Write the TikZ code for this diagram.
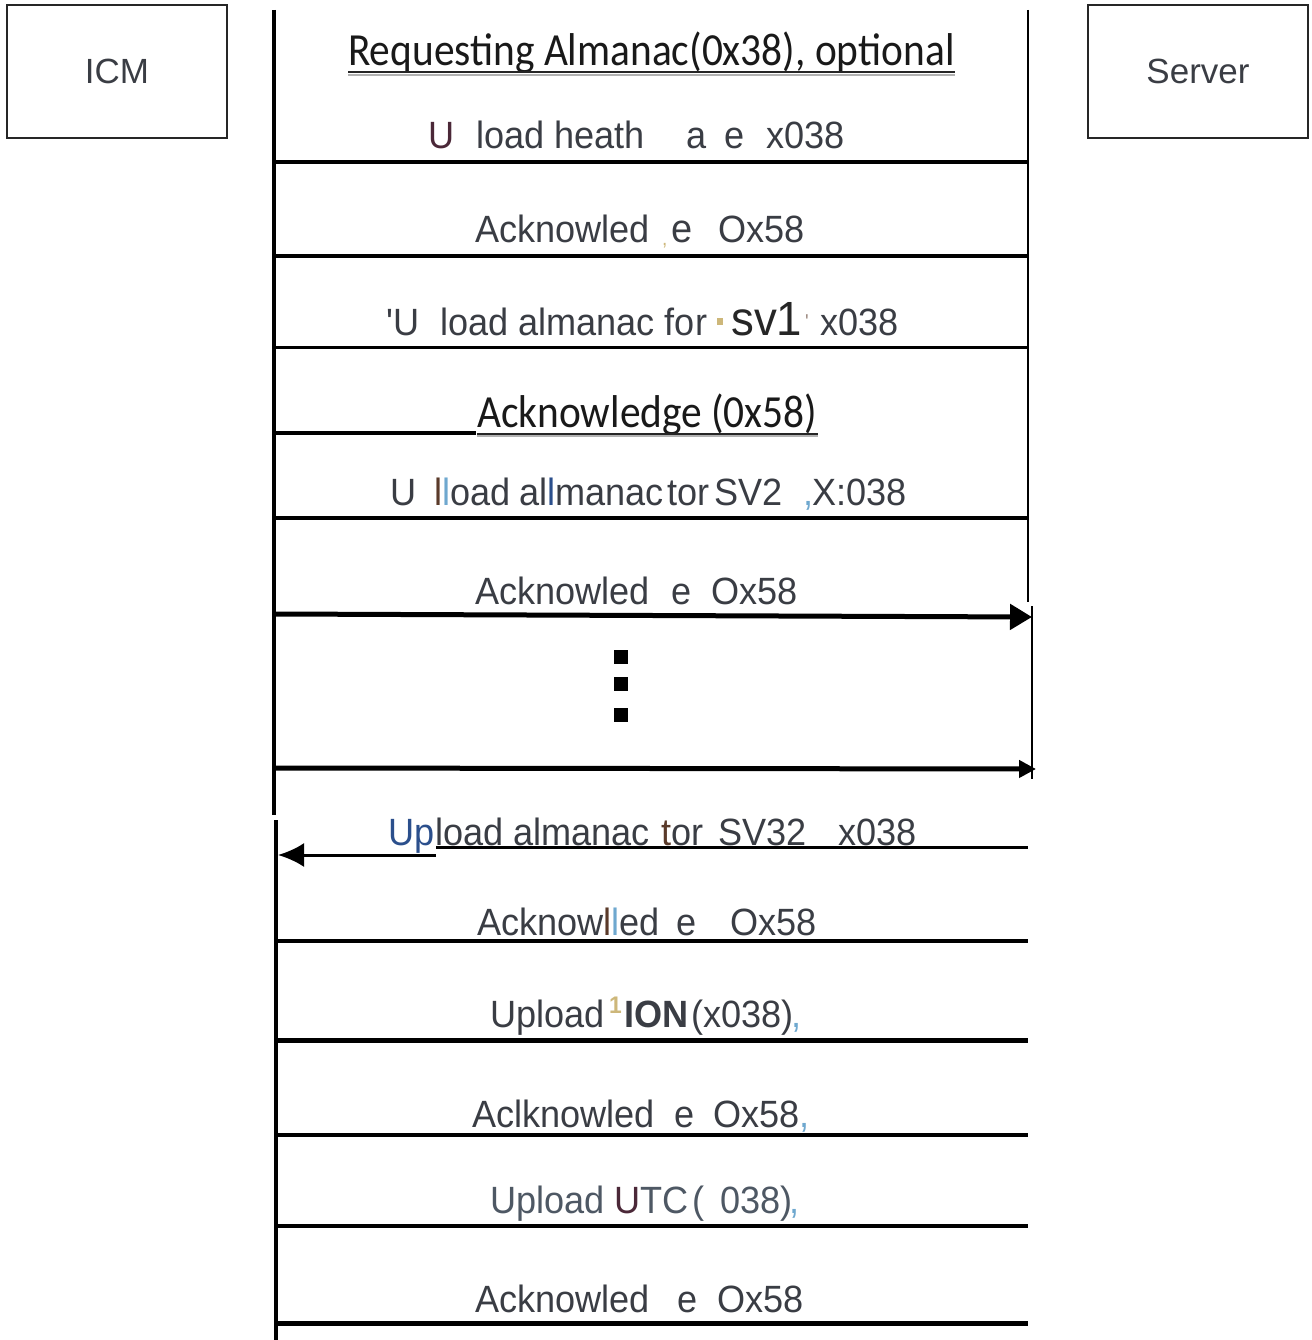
\documentclass[tikz,border=0pt]{standalone}
\usepackage{fontspec}
\setmainfont{Liberation Sans}
\newfontfamily\msgf[FakeStretch=0.95]{Liberation Sans}
\newfontfamily\calf[FakeStretch=0.9]{Carlito}
\usetikzlibrary{arrows.meta}
\definecolor{txt}{HTML}{3A3D44}
\definecolor{purp}{HTML}{4B2838}
\definecolor{gold}{HTML}{CDB77A}
\definecolor{lblue}{HTML}{6FA8CF}
\definecolor{dblue}{HTML}{2B4F8C}
\definecolor{brn}{HTML}{5A3A2A}
\definecolor{bgray}{HTML}{4E5864}
\begin{document}
\begin{tikzpicture}[x=1pt,y=-1pt,
  msg/.style={font=\msgf\fontsize{38}{44}\selectfont, text=txt, inner sep=0pt, anchor=base west},
  ttl/.style={font=\calf\fontsize{46}{50}\selectfont, text=black!90, inner sep=0pt, anchor=base west},
  actor/.style={draw=black!85, line width=1.5pt, inner sep=0pt, minimum width=220pt, minimum height=133pt,
    font=\fontsize{35}{40}\selectfont, text=txt},
  life/.style={line width=4pt},
  msgline/.style={line width=4.5pt},
  thinline/.style={line width=3pt},
  uline/.style={line width=2.5pt, black!85},
  ushadow/.style={line width=2pt, black!30}]
\useasboundingbox (0,0) rectangle (1311,1340);

% actors
\node[actor] (icm) at (117,71.5) {ICM};
\node[actor] (srv) at (1198,71.5) {Server};

% lifelines
\coordinate (lt) at (274,10);
\coordinate (lm) at (274,815);
\coordinate (lm2) at (276,820);
\coordinate (lb) at (276,1340);
\coordinate (rt) at (1028,10);
\coordinate (rm) at (1028,602);
\coordinate (rm2) at (1031.5,606);
\coordinate (rb) at (1031.5,779);
\draw[life] (lt) -- (lm);
\draw[life] (lm2) -- (lb);
\draw[line width=2pt] (rt) -- (rm);
\draw[line width=2pt] (rm2) -- (rb);

% message lines
\foreach \n/\y in {a/162, b/256, c/347, d/433, e/518, f/614, g/768, i/941, j/1040, k/1135, l/1226, m/1323}
  {\coordinate (L\n) at (276,\y); \coordinate (R\n) at (1028,\y);}
\coordinate (Dd) at (476,433);
\coordinate (Rf2) at (1032,617);
\coordinate (Rg2) at (1036,769);
\coordinate (Hs) at (436,847);
\coordinate (Hr) at (1028,847);
\coordinate (Ax) at (436,855);
\coordinate (Al) at (278,855);

\draw[msgline] (La) -- (Ra);
\draw[msgline] (Lb) -- (Rb);
\draw[thinline] (Lc) -- (Rc);
\draw[msgline] (Ld) -- (Dd);
\draw[msgline] (Le) -- (Re);
\draw[line width=5pt, -{Triangle[length=22pt,width=25pt]}] (Lf) -- (Rf2);
\draw[line width=5pt, -{Triangle[length=17pt,width=17pt]}] (Lg) -- (Rg2);
\draw[thinline] (Hs) -- (Hr);
\draw[thinline, -{Latex[length=26pt,width=24pt]}] (Ax) -- (Al);
\draw[line width=3.5pt] (Li) -- (Ri);
\draw[line width=5pt] (Lj) -- (Rj);
\draw[msgline] (Lk) -- (Rk);
\draw[msgline] (Ll) -- (Rl);
\draw[line width=5pt] (Lm) -- (Rm);

% ellipsis squares
\fill (614,650) rectangle (628,664);
\fill (614,677) rectangle (628,691);
\fill (614,708) rectangle (628,722);

% title 1
\node[ttl] (t1) at (348,66) {Requesting Almanac(0x38), optional};
\draw[ushadow] ([yshift=-9pt]t1.base west) -- ([yshift=-9pt]t1.base east);
\draw[uline] ([yshift=-6pt]t1.base west) -- ([yshift=-6pt]t1.base east);

% row 1
\node[msg, text=purp] (r1a) at (428,149) {U};
\node[msg] (r1b) at (476,149) {load heath};
\node[msg] (r1c) at (686,149) {a};
\node[msg] (r1d) at (724,149) {e};
\node[msg] (r1e) at (766,149) {x038};

% row 2
\node[msg] (r2a) at (475,243) {Acknowled};
\node[msg, text=gold, font=\msgf\fontsize{20}{22}\selectfont] (r2b) at (662,246) {,};
\node[msg, font=\msgf\fontsize{40}{44}\selectfont] (r2c) at (671,243) {e};
\node[msg] (r2d) at (718,243) {Ox58};

% row 3
\node[msg] (r3a) at (386,335) {'U};
\node[msg] (r3b) at (440,335) {load almanac for};
\fill[gold] (717,318) rectangle (723,325);
\node[msg, text=black!85, font=\msgf\fontsize{48}{52}\selectfont] (r3c) at (731,335) {sv1};
\node[msg, text=brn!60, font=\msgf\fontsize{20}{22}\selectfont] (r3d) at (805,328) {'};
\node[msg] (r3e) at (820,335) {x038};

% title 2
\node[ttl] (t2) at (477,427) {Acknowledge (0x58)};
\draw[ushadow] ([yshift=-9pt]t2.base west) -- ([yshift=-9pt]t2.base east);
\draw[uline] ([yshift=-7pt]t2.base west) -- ([yshift=-7pt]t2.base east);

% row 5
\node[msg] (r5a) at (390,505) {U};
\node[msg] (r5b) at (434,505) {\color{brn}l\color{lblue}l\color{txt}oad};
\node[msg] (r5c) at (519,505) {al\color{dblue}l\color{txt}manac};
\node[msg] (r5d) at (667,505) {tor};
\node[msg] (r5e) at (714,505) {SV2};
\node[msg, text=lblue] (r5f) at (803,505) {,};
\node[msg] (r5g) at (812,505) {X:038};

% row 6
\node[msg] (r6a) at (475,604) {Acknowled};
\node[msg] (r6b) at (671,604) {e};
\node[msg] (r6c) at (711,604) {Ox58};

% row 7
\node[msg, text=dblue] (r7a) at (388,845) {Up};
\node[msg] (r7b) at (435,845) {load almanac};
\node[msg] (r7c) at (661,845) {\color{brn}t\color{txt}or};
\node[msg] (r7d) at (718,845) {SV32};
\node[msg] (r7e) at (838,845) {x038};

% row 8
\node[msg] (r8a) at (477,935) {Acknow\color{brn}l\color{lblue}l\color{txt}ed};
\node[msg] (r8b) at (676,935) {e};
\node[msg] (r8c) at (730,935) {Ox58};

% row 9
\node[msg] (r9a) at (490,1027) {Upload};
\node[msg, text=gold, font=\msgf\bfseries\fontsize{24}{26}\selectfont] (r9b) at (609,1013) {1};
\node[msg, font=\msgf\bfseries\fontsize{38}{44}\selectfont] (r9c) at (624,1027) {ION};
\node[msg] (r9d) at (691,1027) {(x038)};
\node[msg, text=lblue] (r9e) at (791,1027) {,};

% row 10
\node[msg] (r10a) at (472,1127) {Aclknowled};
\node[msg] (r10b) at (674,1127) {e};
\node[msg] (r10c) at (713,1127) {Ox58};
\node[msg, text=lblue] (r10d) at (799,1127) {,};

% row 11
\node[msg, text=bgray] (r11a) at (490,1213) {Upload};
\node[msg] (r11b) at (614,1213) {\color{purp}U\color{bgray}TC};
\node[msg, text=bgray] (r11c) at (692,1213) {(};
\node[msg, text=bgray] (r11d) at (720,1213) {038)};
\node[msg, text=lblue] (r11e) at (789,1213) {,};

% row 12
\node[msg] (r12a) at (475,1312) {Acknowled};
\node[msg] (r12b) at (677,1312) {e};
\node[msg] (r12c) at (717,1312) {Ox58};
\end{tikzpicture}
\end{document}
